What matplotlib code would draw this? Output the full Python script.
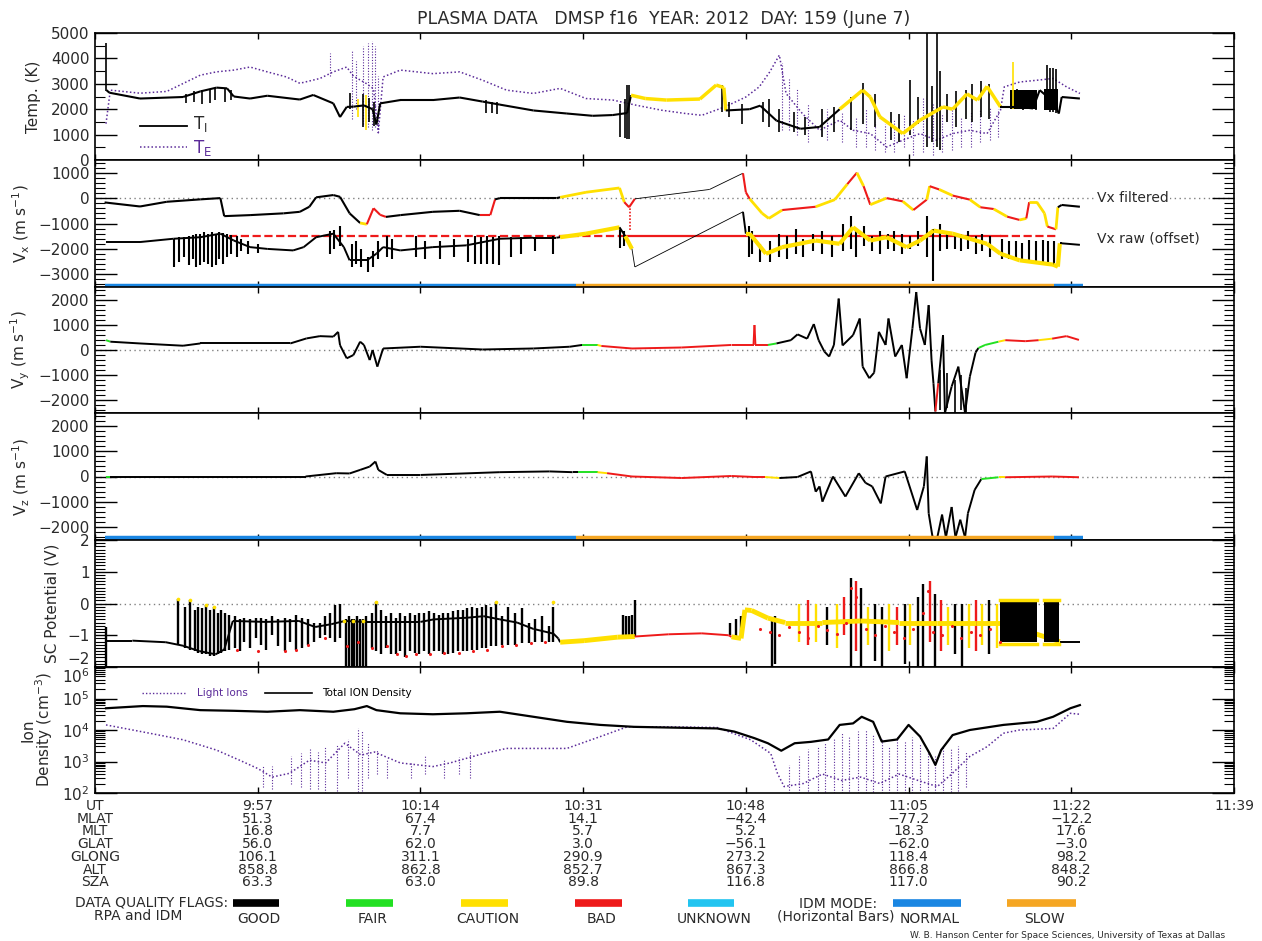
import numpy as np
import matplotlib
matplotlib.use("Agg")
import matplotlib.pyplot as plt
from matplotlib.lines import Line2D
from matplotlib.ticker import MultipleLocator, LogLocator, NullFormatter
import matplotlib.transforms as mtransforms

# ---------------- data (t = minutes after 9:40 UT) ----------------
tick_t = [0, 17, 34, 51, 68, 85, 102, 119]
ut_labels = ['9:57', '10:14', '10:31', '10:48', '11:05', '11:22', '11:39']
mlat = ['51.3', '67.4', '14.1', '\u221242.4', '\u221277.2', '\u221212.2']
mlt = ['16.8', '7.7', '5.7', '5.2', '18.3', '17.6']
glat = ['56.0', '62.0', '3.0', '\u221256.1', '\u221262.0', '\u22123.0']
glong = ['106.1', '311.1', '290.9', '273.2', '118.4', '98.2']
alt = ['858.8', '862.8', '852.7', '867.3', '866.8', '848.2']
sza = ['63.3', '63.0', '89.8', '116.8', '117.0', '90.2']

# Ion temperature
ti_t = [1.2, 1.5, 4.7, 9.2, 11.0, 12.7, 13.8, 14.5, 16.2, 18.0, 21.4, 22.8, 24.9, 25.6, 26.3,
        27.0, 28.1, 29.0, 29.4, 29.8, 31.9, 35.3, 38.1, 40.5, 42.3, 45.8, 49.3, 52.0, 54.1, 55.6,
        56.0, 57.5, 59.7, 63.2, 64.9, 65.7, 65.9, 68.4, 69.5, 71.2, 73.7, 75.7, 77.8, 80.2, 81.0,
        82.0, 84.4, 86.2, 88.6, 89.6, 91.1, 92.2, 93.2, 94.6, 96.6, 98.0, 98.7, 100.1, 100.7, 101.0,
        102.9]
ti_v = [2750, 2650, 2420, 2480, 2700, 2850, 2820, 2500, 2420, 2530, 2380, 2560, 2230, 1690, 2090,
        2100, 2150, 2000, 1400, 2230, 2360, 2360, 2460, 2300, 2180, 1950, 1830, 1740, 1770, 1850,
        2550, 2420, 2360, 2400, 2950, 2850, 1950, 2000, 2140, 1550, 1230, 1300, 2000, 2750, 2480,
        1700, 1040, 1570, 2090, 2000, 2600, 2360, 2900, 2090, 2090, 2030, 2750, 2300, 1830, 2480,
        2420]
ti_f = "G" * 30 + "C" * 6 + "G" * 6 + "C" * 11 + "G" * 8

ti_spk_t = [1.2, 9.5, 10.3, 11.2, 12.0, 12.5, 13.6, 14.2, 26.6, 27.5, 28.0, 28.3, 28.6, 29.1, 40.8,
            41.5, 42.0, 54.9, 55.4, 55.6, 55.8, 65.5, 66.2, 67.6, 69.8, 70.4, 71.5, 73.0, 74.2, 76.0,
            77.2, 79.0, 80.2, 81.5, 83.2, 84.0, 85.2, 86.0, 86.9, 87.4, 88.0, 88.3, 89.0, 90.0, 91.0,
            91.6, 92.6, 93.4, 95.9, 96.3, 97.0, 97.6, 98.3, 99.5, 99.8, 100.1, 100.4]
ti_spk_lo = [2700, 2250, 2300, 2200, 2250, 2350, 2300, 2350, 2000, 1700, 1300, 1200, 1500, 1350, 1850,
             1850, 1800, 900, 850, 830, 830, 1900, 1700, 1400, 1500, 1300, 1100, 1100, 1000, 900,
             1100, 1200, 1400, 1300, 800, 700, 1000, 1400, 500, 700, 500, 400, 1500, 1300, 1600,
             1500, 1700, 1600, 2000, 2000, 1950, 2000, 1950, 2000, 1900, 1900, 1850]
ti_spk_hi = [4600, 2600, 2700, 2750, 2800, 2850, 2850, 2750, 2620, 2400, 2600, 2550, 2450, 2300, 2350,
             2300, 2300, 2200, 2400, 2950, 2950, 2950, 2300, 2200, 2300, 2400, 2000, 1900, 1700, 2000,
             2100, 2500, 3050, 2600, 1900, 1800, 3130, 2500, 5000, 2900, 5000, 3500, 2600, 2700, 2750,
             3000, 3100, 3000, 3870, 2800, 2700, 2650, 2700, 3740, 3620, 3620, 3600]
ti_spk_f = "G" * 9 + "CGC" + "G" * 36 + "C" + "G" * 8
# dense black band of Ti near the end of the pass
ti_blk_t0 = [95.6, 99.2]
ti_blk_t1 = [98.4, 100.6]
ti_blk_lo = [2000, 1950]
ti_blk_hi = [2750, 2800]

# Electron temperature
te_t = [1.15, 1.6, 4.7, 7.5, 11.0, 12.7, 14.5, 16.2, 18.0, 20.0, 21.4, 23.5, 24.9, 26.3, 27.0,
        28.4, 29.1, 29.6, 30.1, 31.9, 35.3, 38.1, 40.5, 43.0, 45.8, 48.6, 51.3, 54.1, 56.5, 59.2,
        61.7, 63.4, 65.8, 68.0, 69.4, 70.5, 71.5, 72.2, 73.9, 75.7, 77.8, 79.2, 81.0, 82.7, 84.4,
        86.2, 87.9, 89.6, 91.4, 93.2, 94.6, 95.0, 96.6, 98.4, 100.1, 101.5, 102.9]
te_v = [1430, 2750, 2630, 2700, 3340, 3470, 3540, 3660, 3470, 3270, 3020, 3210, 3470, 3660, 3300,
        3000, 2800, 1070, 3270, 3540, 3400, 3470, 3140, 2750, 2620, 2820, 2420, 2360, 2160, 1960,
        1830, 1760, 2090, 2480, 2880, 3470, 4130, 2620, 1830, 1170, 1570, 1170, 1040, 510, 780,
        1040, 780, 1040, 1170, 1040, 1960, 2880, 3070, 3140, 3210, 2880, 2620]
te_spk_t = [24.5, 26.8, 27.3, 28.0, 28.5, 28.9, 29.3, 29.6, 71.8, 72.5, 73.3, 74.5, 76.5, 78.0, 79.5,
            80.5, 81.5, 82.5, 83.5, 84.5, 85.5, 86.5, 87.5, 88.5, 89.5, 90.5, 91.5, 92.5, 93.5, 94.3]
te_spk_lo = [3300, 1600, 2000, 1400, 1300, 1200, 1300, 1100, 1200, 1200, 1000, 700, 800, 700, 500,
             500, 400, 300, 300, 500, 200, 300, 200, 300, 400, 500, 500, 700, 800, 900]
te_spk_hi = [4200, 4300, 3900, 4500, 4600, 4700, 4500, 3300, 3800, 3200, 2800, 2200, 2000, 1900, 1700,
             2000, 1500, 1400, 1600, 1800, 1600, 2500, 2200, 1800, 2000, 1700, 1900, 2000, 2100, 2000]

# Vx filtered
vxf_t = [1.0, 4.7, 7.5, 11.0, 13.1, 13.5, 16.2, 19.7, 21.4, 22.4, 23.1, 24.9, 25.6, 26.6, 27.7,
         28.4, 29.1, 29.8, 30.4, 31.9, 35.3, 38.1, 40.2, 41.3, 41.8, 42.3, 48.2, 48.6, 51.3, 54.8,
         55.3, 55.8, 56.4, 64.2, 67.7, 68.0, 68.4, 69.7, 70.4, 71.8, 75.3, 77.3, 78.6, 79.6, 80.3,
         81.0, 82.7, 84.4, 85.5, 86.9, 87.2, 88.2, 89.6, 91.4, 92.5, 93.9, 95.3, 96.6, 97.3, 97.6,
         98.4, 99.2, 99.5, 100.4, 100.6, 101.0, 102.9]
vxf_v = [-170, -330, -145, -50, 0, -710, -670, -600, -540, -340, 30, 120, 50, -600, -980,
         -1030, -400, -660, -740, -670, -540, -500, -670, -670, -50, 0, 0, 30, 230, 400,
         -160, -360, -30, 340, 980, 230, -30, -600, -800, -470, -340, -60, 550, 1000, 470,
         -260, 0, -130, -470, -60, 470, 340, 100, -60, -360, -430, -730, -860, -800, -160,
         -160, -600, -1120, -1230, -360, -270, -340]
vxf_f = ("G" * 14 + "C" + "BBB" + "GGGG" + "BB" + "GGG" + "CCC" + "BB" + "TT" + "BB"
         + "CCCBCCBCBCBCBCBCBCBCBCBCCCBC" + "GGG")

# Vx raw (offset)
vxr_t = [1.15, 4.7, 8.2, 11.0, 13.1, 14.5, 16.2, 18.0, 20.7, 21.8, 23.1, 24.9, 26.0, 26.6, 28.4,
         29.4, 30.1, 31.9, 35.3, 38.8, 42.3, 45.8, 48.2, 48.6, 51.3, 54.8, 55.4, 56.1, 56.4, 67.7,
         68.0, 68.4, 70.1, 71.8, 75.3, 77.8, 79.2, 81.0, 82.7, 84.8, 86.2, 87.6, 89.6, 91.4, 93.2,
         94.6, 96.6, 100.1, 100.6, 100.8, 101.0, 102.9]
vxr_v = [-1730, -1730, -1600, -1540, -1400, -1670, -1930, -2000, -2060, -1930, -1540, -1400, -1930,
         -2450, -2450, -2190, -1930, -2060, -1930, -1860, -1600, -1560, -1560, -1540, -1400, -1150,
         -1500, -2000, -2710, -540, -1400, -1400, -2190, -1930, -1670, -1800, -1150, -1670, -1540,
         -1930, -1670, -1280, -1400, -1600, -1800, -2190, -2450, -2620, -2700, -1780, -1780, -1840]
vxr_f = "G" * 23 + "CC" + "G" + "C" + "TT" + "G" + "C" * 19 + "GGG"

vxr_spk_t = [8.3, 8.8, 9.3, 9.8, 10.2, 10.6, 11.0, 11.4, 11.8, 12.2, 12.6, 13.0, 13.4, 13.8, 14.2,
             14.8, 15.3, 16.0, 17.0, 24.5, 25.0, 25.6, 26.8, 27.3, 27.8, 28.5, 29.0, 29.6, 30.5, 31.0,
             33.5, 34.5, 36.0, 37.5, 39.0, 39.7, 40.3, 41.0, 41.6, 42.2, 43.5, 44.5, 46.0, 47.8, 54.9,
             55.3, 68.3, 68.6, 69.5, 70.5, 71.5, 72.3, 73.2, 74.0, 75.0, 76.0, 77.0, 78.2, 79.0, 79.5,
             80.3, 81.2, 82.0, 82.8, 83.5, 84.3, 85.2, 86.0, 86.9, 87.5, 88.3, 89.0, 89.8, 90.5, 91.2,
             92.0, 92.7, 93.5, 94.8, 95.5, 96.2, 96.9, 97.6, 98.3, 99.0, 99.6, 100.2]
vxr_spk_lo = [-2700, -2500, -2300, -2650, -2400, -2700, -2650, -2500, -2600, -2700, -2650, -2400,
              -2600, -2300, -2200, -2300, -2100, -2200, -2150, -2200, -2000, -1900, -2700, -2600,
              -2700, -2900, -2700, -2400, -2300, -2400, -2300, -2400, -2400, -2300, -2500, -2600,
              -2600, -2600, -2600, -2650, -2300, -2200, -2100, -2200, -1950, -1900, -2300, -2200,
              -2500, -2500, -2300, -2400, -2200, -2300, -2100, -2200, -2300, -2100, -2000, -2300,
              -1900, -2100, -2200, -2000, -2100, -2200, -2000, -1900, -2300, -3250, -2100, -2000,
              -2000, -2100, -2000, -2200, -2100, -2300, -2400, -2400, -2450, -2450, -2500, -2500,
              -2550, -2600, -2650]
vxr_spk_hi = [-1600, -1550, -1550, -1500, -1450, -1400, -1400, -1350, -1400, -1350, -1400, -1350,
              -1380, -1400, -1450, -1500, -1600, -1700, -1800, -1300, -1250, -1100, -1800, -1700,
              -2000, -2300, -2100, -1700, -1500, -1600, -1500, -1700, -1700, -1600, -1600, -1500,
              -1550, -1500, -1550, -1500, -1550, -1550, -1550, -1500, -1200, -1300, -1100, -1300,
              -1800, -1700, -1400, -1500, -1200, -1600, -1400, -1300, -1500, -1000, -700, -1200,
              -1100, -1500, -1300, -1400, -1300, -1400, -1500, -1300, -700, -1200, -1000, -1300,
              -1400, -1400, -1300, -1500, -1400, -1500, -1600, -1700, -1700, -1750, -1650, -1700,
              -1650, -1700, -1700]

# red "bad" offset trace in Vx panel
vx_bad_t0 = [14.0, 54.8, 94.6]
vx_bad_t1 = [54.8, 94.6, 100.6]
vx_bad_style = ['--', '-', '--']
vx_bad_level = -1500

# IDM mode bars
mode_t0 = [1.0, 50.3, 100.2]
mode_t1 = [50.3, 100.2, 103.2]
mode_kind = ['N', 'S', 'N']

# Vy
vy_t = [1.15, 1.6, 4.7, 9.2, 11.0, 20.4, 22.1, 23.5, 24.9, 25.4, 25.6, 26.3, 27.0, 27.7, 28.1,
        28.7, 29.0, 29.5, 30.1, 34.0, 40.5, 45.8, 49.6, 50.9, 52.5, 52.9, 56.1, 61.3, 66.5, 68.8,
        68.9, 69.0, 70.3, 71.2, 72.7, 73.4, 74.4, 75.1, 75.6, 76.2, 76.7, 77.2, 77.7, 78.1, 79.2,
        79.9, 80.2, 80.9, 81.4, 81.9, 82.6, 82.9, 83.6, 84.3, 84.8, 85.4, 85.8, 86.2, 86.7, 87.1,
        87.4, 87.6, 87.8, 88.1, 88.6, 88.8, 89.5, 90.2, 90.9, 91.4, 92.0, 92.3, 93.0, 94.4, 95.1,
        97.2, 98.6, 100.0, 101.5, 102.8]
vy_v = [390, 330, 260, 170, 260, 260, 460, 550, 530, 720, 190, -330, -200, 330, 200,
        -400, 0, -660, 60, 130, 20, 60, 130, 200, 200, 160, 60, 100, 200, 200,
        990, 200, 200, 260, 390, 620, 450, 1030, 390, -60, -260, 200, 2040, 180, 590,
        1250, -660, -1120, -900, 720, 200, 1250, -260, 200, -1120, 850, 2300, 850, 200, 1780,
        -400, -1320, -2440, -1320, 590, -2500, -1450, -660, -2500, -1060, -100, 80, 200, 330, 390,
        350, 390, 450, 550, 400]
vy_f = "F" + "G" * 22 + "F" + "C" + "B" * 7 + "F" + "G" * 29 + "B" + "G" * 8 + "FFCBBCBBB"
vy_spk_t = [88.3, 89.0, 89.8, 90.5, 91.0]
vy_spk_lo = [-2400, -2300, -2500, -2400, -2450]
vy_spk_hi = [-800, -900, -1200, -1000, -1500]

# Vz
vz_t = [1.15, 1.6, 22.0, 25.2, 26.6, 27.7, 28.7, 29.3, 29.6, 30.5, 34.0, 42.3, 47.5, 49.9, 50.5,
        52.5, 53.5, 56.1, 61.3, 66.5, 68.9, 70.0, 71.5, 73.4, 74.8, 75.3, 75.7, 76.0, 77.1, 78.4,
        79.8, 80.5, 81.2, 82.1, 82.6, 84.6, 85.9, 86.6, 86.9, 87.1, 87.5, 88.0, 88.5, 88.9, 89.5,
        89.9, 90.4, 90.9, 91.2, 91.9, 92.6, 94.4, 95.1, 100.0, 102.8]
vz_v = [0, 0, 0, 130, 120, 260, 390, 590, 260, 60, 60, 170, 200, 170, 170,
        170, 130, 0, -60, 20, -20, -20, -60, -20, 200, -600, -390, -990, 0, -790,
        130, -250, -390, -1060, 0, 200, -1320, -390, 790, -1450, -2370, -2400, -1500, -2400, -1200,
        -2400, -1700, -2400, -1450, -530, -100, -30, -30, 0, -30]
vz_f = "F" + "G" * 13 + "F" + "C" + "B" * 5 + "C" + "G" * 18 + "B" + "G" * 9 + "FCBBB"

# Spacecraft potential
sc_t = [1.15, 3.9, 7.4, 9.2, 10.9, 12.6, 13.5, 14.4, 17.8, 21.3, 23.0, 24.7, 26.1, 28.3, 30.2,
        34.0, 35.4, 38.8, 40.6, 42.3, 44.1, 45.8, 47.9, 48.4, 48.6, 51.1, 54.6, 56.4, 59.9, 63.4,
        66.2, 66.5, 67.5, 67.9, 68.6, 70.3, 72.1, 76.0, 80.0, 84.0, 88.0, 92.0, 94.6, 100.8, 101.0,
        102.9]
sc_v = [-1.17, -1.17, -1.22, -1.33, -1.5, -1.6, -1.45, -0.55, -0.58, -0.55, -0.74, -0.65, -0.55,
        -0.58, -0.58, -0.58, -0.5, -0.45, -0.4, -0.5, -0.6, -0.8, -0.95, -1.1, -1.22, -1.17, -1.06,
        -1.04, -0.97, -0.94, -1.0, -1.05, -1.1, -0.2, -0.22, -0.46, -0.6, -0.6, -0.55, -0.6, -0.6,
        -0.6, -0.6, -1.2, -1.2, -1.2]
sc_f = "G" * 24 + "CCC" + "BBBB" + "C" + "C" * 11 + "GGG"

sc_spk_t = [1.15, 8.7, 9.4, 9.9, 10.4, 10.8, 11.2, 11.6, 12.0, 12.4, 12.8, 13.2, 13.6, 14.0,
            14.6, 15.1, 15.6, 16.2, 16.8, 17.3, 17.9, 18.5, 19.1, 19.8, 20.4, 21.0, 21.6, 22.3, 22.9,
            23.5, 24.0, 24.6, 25.1, 25.6,
            26.2, 26.5, 26.8, 27.1, 27.4, 27.7, 28.0, 28.3,
            28.9, 29.4, 29.9, 30.4, 30.9, 31.4, 31.9, 32.4, 32.9, 33.4, 33.9, 34.4, 34.9, 35.4, 35.9,
            36.4, 36.9, 37.4, 37.9, 38.4, 38.9, 39.4, 39.9, 40.4, 40.9, 41.4, 41.9, 42.5, 43.2, 43.9,
            44.6, 45.3, 46.0, 46.7, 47.4, 47.9,
            55.2, 55.5, 55.8, 56.1, 56.4, 66.3, 67.0, 67.5,
            70.7, 71.0, 73.5, 74.5, 75.3, 76.5, 77.5, 78.3, 79.0, 79.5, 80.0, 80.8, 81.5, 82.2, 83.0,
            83.8, 84.6, 85.2, 86.0, 86.5, 87.2, 87.8, 88.4, 89.1, 89.8, 90.6, 91.3, 92.0, 92.7, 93.4,
            94.2]
sc_spk_lo = [-2.0, -1.3, -1.4, -1.45, -1.5, -1.55, -1.6, -1.6, -1.65, -1.65, -1.6, -1.55, -1.5, -1.45,
             -1.4, -1.5, -1.2, -1.4, -1.1, -1.3, -1.45, -1.0, -1.35, -1.5, -1.2, -1.45, -1.4, -1.3,
             -1.2, -1.1, -1.0, -1.1, -1.2, -1.1,
             -2.0, -2.0, -2.0, -2.0, -2.0, -2.0, -2.0, -2.0,
             -1.4, -1.5, -1.6, -1.4, -1.6, -1.6, -1.5, -1.7, -1.5, -1.55, -1.6, -1.5, -1.6, -1.5,
             -1.5, -1.6, -1.6, -1.55, -1.5, -1.5, -1.5, -1.45, -1.45, -1.4, -1.4, -1.35, -1.35, -1.3,
             -1.3, -1.3, -1.25, -1.25, -1.2, -1.2, -1.2, -1.2,
             -1.06, -1.06, -1.06, -1.06, -1.04, -1.0, -1.1, -1.1,
             -2.0, -1.9, -1.2, -1.3, -1.2, -1.3, -1.4, -1.0, -2.0, -1.5, -2.0, -1.3, -1.8, -2.0, -1.5,
             -1.3, -1.9, -1.3, -2.0, -2.0, -1.2, -2.0, -1.5, -1.3, -1.6, -2.0, -1.4, -1.5, -1.3, -1.6,
             -1.4]
sc_spk_hi = [-0.74, 0.15, -0.1, 0.1, -0.2, -0.1, -0.15, -0.05, -0.2, -0.1, -0.3, -0.2, -0.3, -0.35,
             -0.4, -0.5, -0.45, -0.5, -0.45, -0.45, -0.5, -0.4, -0.5, -0.45, -0.5, -0.35, -0.45, -0.5,
             -0.6, -0.6, -0.4, -0.3, -0.05, 0.0,
             -0.5, -0.4, -0.5, -0.5, -0.4, -0.5, -0.5, -0.4,
             -0.3, 0.05, -0.2, -0.4, -0.3, -0.45, -0.3, -0.4, -0.3, -0.35, -0.3, -0.3, -0.25, -0.3,
             -0.35, -0.3, -0.3, -0.25, -0.2, -0.2, -0.15, -0.1, -0.15, -0.1, -0.05, -0.1, 0.05, -0.4,
             -0.1, -0.3, -0.15, -0.6, -0.5, -0.4, -0.7, -0.1,
             -0.35, -0.4, -0.38, -0.35, 0.1, -0.6, -0.5, -0.4,
             -0.5, -0.4, 0.0, 0.1, 0.0, -0.1, 0.0, 0.2, 0.8, 0.7, 0.5, -0.1, 0.0, -0.1, 0.0,
             -0.1, 0.0, 0.0, 0.2, 0.6, 0.7, 0.3, 0.1, -0.1, 0.0, 0.0, 0.0, 0.1, 0.0, 0.1,
             0.0]
sc_spk_f = "G" * 86 + "GGCBCGCBGBGCGGCBGCGGBGBCGGCBCGC"

sc_red_t = [14.8, 17.0, 19.8, 21.0, 22.3, 24.0, 26.3, 27.5, 28.9, 30.5, 31.5, 32.5, 33.5, 35.0,
            36.5, 38.0, 39.5, 41.0, 42.5, 44.0, 45.5, 47.0,
            69.5, 70.5, 71.5, 72.5, 73.5, 74.5, 75.5, 76.5, 77.5, 78.5, 79.0, 79.5, 80.5, 81.5,
            82.5, 83.5, 84.5, 85.5, 86.5, 87.0, 87.5, 88.5, 89.5, 90.5, 91.5, 92.5, 93.5, 94.5]
sc_red_v = [-1.45, -1.5, -1.5, -1.45, -1.3, -1.1, -1.35, -1.2, -1.4, -1.35, -1.6, -1.65, -1.6, -1.6,
            -1.55, -1.55, -1.5, -1.45, -1.35, -1.3, -1.25, -1.2,
            -0.8, -0.9, -1.0, -0.75, -0.9, -1.1, -0.7, -0.85, -0.95, -0.6, 0.5, 0.2, -0.8, -1.0,
            -0.7, -0.9, -1.1, -0.8, -0.3, 0.4, -0.9, -1.0, -0.7, -1.1, -0.9, -1.0, -0.8, -1.2]
sc_yel_t = [8.7, 9.9, 11.6, 12.4, 26.0, 27.0, 28.0, 29.4, 41.9, 47.9]
sc_yel_v = [0.15, 0.1, -0.05, -0.1, -0.55, -0.55, -0.55, 0.05, 0.05, 0.05]
sc_blk_t0 = [94.6, 99.1]
sc_blk_t1 = [98.4, 100.7]
sc_blk_lo = -1.22
sc_blk_hi = 0.05

# Ion density
ni_t = [1.15, 5.0, 7.5, 11.0, 14.5, 18.0, 21.4, 24.9, 27.1, 28.4, 29.4, 31.9, 35.3, 38.8, 42.3,
        45.8, 49.3, 52.8, 56.3, 59.8, 65.0, 66.8, 68.9, 70.3, 71.7, 73.1, 74.8, 76.6, 77.8, 79.2,
        80.1, 81.3, 82.2, 83.8, 85.0, 86.2, 87.2, 87.8, 88.4, 89.6, 91.4, 94.9, 98.4, 100.1, 101.9,
        102.9]
ni_v = [49000, 57500, 55000, 42700, 40700, 38000, 42700, 38000, 45700, 57500, 42700, 33900, 31600,
        33900, 38000, 26300, 18200, 14500, 12600, 12000, 11200, 8900, 5500, 3800, 2200, 3800, 4200,
        5000, 14500, 16200, 26300, 18200, 4300, 5000, 14500, 6200, 1800, 780, 2300, 6900, 10000,
        14500, 18200, 26300, 49000, 61700]
li_t = [1.15, 5.7, 9.2, 12.7, 15.1, 17.0, 18.5, 20.3, 22.4, 24.1, 26.1, 27.8, 29.2, 31.9, 35.3,
        37.1, 38.8, 40.6, 43.0, 45.8, 49.3, 52.8, 55.6, 59.8, 65.0, 68.5, 70.6, 71.3, 72.0, 74.0,
        76.0, 78.0, 80.0, 82.0, 84.0, 86.0, 88.0, 89.5, 91.4, 93.2, 94.9, 96.6, 100.1, 101.9, 102.9]
li_v = [14500, 7900, 4900, 2300, 1100, 600, 320, 420, 1100, 900, 3800, 1600, 2000, 900, 690,
        900, 1260, 1800, 2600, 2600, 2600, 6200, 12600, 12600, 12000, 4900, 1800, 420, 160, 200,
        400, 250, 320, 200, 400, 250, 160, 400, 1450, 2950, 7900, 10000, 11200, 33900, 31600]
li_spk_t = [17.5, 18.5, 20.5, 21.5, 22.5, 23.3, 24.0, 25.3, 26.4, 27.5, 27.9, 28.5, 29.5, 30.5, 33.0,
            34.5, 36.5, 38.0, 39.2, 72.5, 73.5, 74.5, 75.5, 76.3, 77.2, 78.0, 78.8, 79.7, 80.5, 81.3,
            82.2, 83.0, 83.8, 84.6, 85.4, 86.2, 87.0, 87.8, 88.6, 89.4, 90.2, 91.0]
li_spk_lo = [150, 130, 200, 150, 130, 130, 100, 120, 300, 110, 120, 300, 400, 300, 300,
             400, 300, 400, 300, 100, 100, 120, 100, 110, 100, 100, 120, 100, 100, 110,
             100, 100, 100, 100, 100, 100, 100, 100, 100, 110, 120, 150]
li_spk_hi = [800, 700, 1500, 1800, 2500, 2000, 3000, 3500, 5000, 12000, 10000, 4000, 2500, 1200, 1000,
             1500, 1200, 1400, 2000, 800, 1500, 2500, 3000, 4000, 5000, 8000, 6000, 9000, 10000, 7000,
             5000, 3000, 6000, 4500, 6000, 3500, 2500, 1500, 3000, 2500, 3000, 2000]

# ---------------- styling ----------------
W, H = 1262, 941
FLAG_COLORS = {'G': 'black', 'F': '#22e022', 'C': '#ffe000', 'B': '#ee1a1a', 'T': 'black',
               'U': '#22c4f0'}
MODE_COLORS = {'N': '#1a86e2', 'S': '#f5a623'}
PURPLE = '#5b2b99'
TXT = '#2a2a2a'
DOT = (0, (1, 2.5))
NARROW = ['Liberation Sans Narrow', 'DejaVu Sans']

plt.rcParams['font.family'] = ['DejaVu Sans']


def fx(x):
    return x / W


def fy(y):
    return 1 - y / H


def flag_line(ax, t, v, f, lw=1.3, clw=None):
    assert len(t) == len(v) == len(f), (len(t), len(v), len(f))
    for i in range(len(t) - 1):
        c = FLAG_COLORS[f[i]]
        w = 0.6 if f[i] == 'T' else (clw if (clw and f[i] == 'C') else lw)
        ax.plot(t[i:i + 2], v[i:i + 2], color=c, lw=w, zorder=3, solid_capstyle='butt')


def spikes(ax, t, lo, hi, f=None, lw=0.8, color='black', **kw):
    assert len(t) == len(lo) == len(hi)
    cols = [FLAG_COLORS[c] for c in f] if f else color
    if f:
        assert len(f) == len(t)
    ax.vlines(t, lo, hi, colors=cols, lw=lw, zorder=2, **kw)


fig = plt.figure(figsize=(W / 100, H / 100), dpi=100)
fig.patch.set_facecolor('white')

left, right = 95, 1234
edges = [33, 160, 287, 413, 540, 667, 793]
axes = []
for i in range(6):
    y0, y1 = edges[i], edges[i + 1]
    ax = fig.add_axes([fx(left), fy(y1), (right - left) / W, (y1 - y0) / H])
    ax.set_xlim(0, 119)
    ax.set_xticks(tick_t)
    ax.tick_params(axis='x', direction='in', top=True, bottom=True, length=4, width=1,
                   labelbottom=False)
    ax.tick_params(axis='y', which='major', direction='in', left=True, right=True, length=16,
                   width=1, labelsize=11, labelcolor=TXT, pad=4)
    ax.tick_params(axis='y', which='minor', direction='in', left=True, right=True, length=7,
                   width=0.8)
    for s in ax.spines.values():
        s.set_linewidth(1.2)
    axes.append(ax)

ax1, ax2, ax3, ax4, ax5, ax6 = axes

# ---- panel 1: temperatures
ax1.set_ylim(0, 5000)
ax1.set_yticks([0, 1000, 2000, 3000, 4000, 5000])
ax1.yaxis.set_minor_locator(MultipleLocator(500))
ax1.plot(te_t, te_v, color=PURPLE, lw=1.1, ls=(0, (1, 1.5)), zorder=2)
spikes(ax1, te_spk_t, te_spk_lo, te_spk_hi, lw=0.8, color=PURPLE, linestyles=(0, (1, 1.5)))
for t0, t1, lo, hi in zip(ti_blk_t0, ti_blk_t1, ti_blk_lo, ti_blk_hi):
    ax1.fill_between([t0, t1], [lo, lo], [hi, hi], color='black', lw=0, zorder=2)
spikes(ax1, ti_spk_t, ti_spk_lo, ti_spk_hi, ti_spk_f, lw=1.2)
flag_line(ax1, ti_t, ti_v, ti_f, lw=1.5, clw=2.5)
ax1.set_ylabel('Temp. (K)', fontsize=11, color=TXT)
ax1.yaxis.set_label_coords(-0.047, 0.5)

# ---- panel 2: Vx
ax2.set_ylim(-3500, 1500)
ax2.set_yticks([-3000, -2000, -1000, 0, 1000])
ax2.yaxis.set_minor_locator(MultipleLocator(200))
ax2.axhline(0, color='gray', lw=1, ls=DOT, zorder=1)
for t0, t1, st in zip(vx_bad_t0, vx_bad_t1, vx_bad_style):
    ax2.plot([t0, t1], [vx_bad_level, vx_bad_level], color=FLAG_COLORS['B'], lw=1.6, ls=st, zorder=2)
spikes(ax2, vxr_spk_t, vxr_spk_lo, vxr_spk_hi, lw=1.5)
flag_line(ax2, vxr_t, vxr_v, vxr_f, lw=1.4, clw=3.0)
flag_line(ax2, vxf_t, vxf_v, vxf_f, lw=1.5, clw=2.0)
ax2.vlines([55.9], [-1260], [-360], colors=FLAG_COLORS['B'], lw=1.2, linestyles=(0, (1, 1)))
for t0, t1, k in zip(mode_t0, mode_t1, mode_kind):
    ax2.plot([t0, t1], [-3470, -3470], color=MODE_COLORS[k], lw=3.2, solid_capstyle='butt',
             clip_on=False, zorder=5)
ax2.text(104.7, 0, 'Vx filtered', fontsize=10, color=TXT, va='center', ha='left',
         bbox=dict(facecolor='white', edgecolor='none', pad=0.5))
ax2.text(104.7, -1600, 'Vx raw (offset)', fontsize=10, color=TXT, va='center', ha='left')
ax2.set_ylabel(r'V$_{\rm x}$ (m s$^{-1}$)', fontsize=11, color=TXT)
ax2.yaxis.set_label_coords(-0.055, 0.5)

# ---- panel 3: Vy
ax3.set_ylim(-2500, 2500)
ax3.set_yticks([-2000, -1000, 0, 1000, 2000])
ax3.yaxis.set_minor_locator(MultipleLocator(200))
ax3.axhline(0, color='gray', lw=1, ls=DOT, zorder=1)
spikes(ax3, vy_spk_t, vy_spk_lo, vy_spk_hi, lw=1.2)
flag_line(ax3, vy_t, vy_v, vy_f, lw=1.4)
ax3.set_ylabel(r'V$_{\rm y}$ (m s$^{-1}$)', fontsize=11, color=TXT)
ax3.yaxis.set_label_coords(-0.055, 0.5)

# ---- panel 4: Vz
ax4.set_ylim(-2500, 2500)
ax4.set_yticks([-2000, -1000, 0, 1000, 2000])
ax4.yaxis.set_minor_locator(MultipleLocator(200))
ax4.axhline(0, color='gray', lw=1, ls=DOT, zorder=1)
flag_line(ax4, vz_t, vz_v, vz_f, lw=1.4)
for t0, t1, k in zip(mode_t0, mode_t1, mode_kind):
    ax4.plot([t0, t1], [-2430, -2430], color=MODE_COLORS[k], lw=3.2, solid_capstyle='butt',
             clip_on=False, zorder=5)
ax4.set_ylabel(r'V$_{\rm z}$ (m s$^{-1}$)', fontsize=11, color=TXT)
ax4.yaxis.set_label_coords(-0.055, 0.5)

# ---- panel 5: SC potential
ax5.set_ylim(-2, 2)
ax5.set_yticks([-2, -1, 0, 1, 2])
ax5.yaxis.set_minor_locator(MultipleLocator(0.1))
ax5.axhline(0, color='gray', lw=1, ls=DOT, zorder=1)
flag_line(ax5, sc_t, sc_v, sc_f, lw=1.4, clw=3.5)
spikes(ax5, sc_spk_t, sc_spk_lo, sc_spk_hi, sc_spk_f, lw=1.7)
for t0, t1 in zip(sc_blk_t0, sc_blk_t1):
    ax5.fill_between([t0, t1], [sc_blk_lo] * 2, [sc_blk_hi] * 2, color='black', lw=0, zorder=3)
    ax5.plot([t0, t1], [sc_blk_hi + 0.05] * 2, color=FLAG_COLORS['C'], lw=2.5, zorder=3)
    ax5.plot([t0, t1], [sc_blk_lo - 0.04] * 2, color=FLAG_COLORS['C'], lw=2.5, zorder=3)
ax5.scatter(sc_red_t, sc_red_v, s=5, color=FLAG_COLORS['B'], zorder=4, lw=0)
ax5.scatter(sc_yel_t, sc_yel_v, s=7, color=FLAG_COLORS['C'], zorder=4, lw=0)
ax5.set_ylabel('SC Potential (V)', fontsize=11, color=TXT)
ax5.yaxis.set_label_coords(-0.031, 0.5)
ax5.yaxis.get_major_ticks()[0].label1.set_verticalalignment('bottom')

# ---- panel 6: ion density
ax6.set_yscale('log')
ax6.set_ylim(1e2, 1e6)
ax6.set_yticks([1e2, 1e3, 1e4, 1e5, 1e6])
ax6.yaxis.set_minor_locator(LogLocator(base=10, subs=np.arange(2, 10), numticks=10))
ax6.yaxis.set_minor_formatter(NullFormatter())
ax6.tick_params(axis='y', which='minor', length=7)
ax6.plot(li_t, li_v, color=PURPLE, lw=1.1, ls=(0, (1, 1.5)), zorder=2)
ax6.vlines(li_spk_t, li_spk_lo, li_spk_hi, colors=PURPLE, lw=0.8, linestyles=(0, (1, 1.5)))
ax6.plot(ni_t, ni_v, color='black', lw=1.6, zorder=3)
ax6.set_ylabel('Ion\nDensity (cm$^{-3}$)', fontsize=11, color=TXT, linespacing=0.9)
ax6.yaxis.set_label_coords(-0.035, 0.5)
ax6.yaxis.get_major_ticks()[-1].label1.set_verticalalignment('top')

# ---------------- legends / annotations ----------------
def fig_line(x0, x1, y, **kw):
    fig.add_artist(Line2D([fx(x0), fx(x1)], [fy(y), fy(y)], transform=fig.transFigure, **kw))


fig_line(140, 187, 126, color='black', lw=1.3)
fig.text(fx(193), fy(124), r'T$_{\rm I}$', fontsize=12, color=TXT, va='center')
fig_line(140, 187, 147, color=PURPLE, lw=1.1, ls=(0, (1, 1.5)))
fig.text(fx(193), fy(148), r'T$_{\rm E}$', fontsize=12, color=PURPLE, va='center')

fig_line(142, 185, 693, color=PURPLE, lw=1.0, ls=(0, (1, 1.5)))
fig.text(fx(197), fy(693), 'Light Ions', fontsize=7.5, color=PURPLE, va='center')
fig_line(265, 312, 693, color='black', lw=1.2)
fig.text(fx(322), fy(693), 'Total ION Density', fontsize=7.5, color='black', va='center')

fig.text(fx(664), fy(19), 'PLASMA DATA   DMSP f16  YEAR: 2012  DAY: 159 (June 7)',
         fontsize=12.5, color=TXT, ha='center', va='center')

# bottom table
trans = mtransforms.blended_transform_factory(ax6.transData, fig.transFigure)
row_names = ['UT', 'MLAT', 'MLT', 'GLAT', 'GLONG', 'ALT', 'SZA']
rows = [ut_labels, mlat, mlt, glat, glong, alt, sza]
tab_font = dict(fontsize=10, color=TXT, ha='center', va='center', transform=trans, family=NARROW)
for r, (name, vals) in enumerate(zip(row_names, rows)):
    yy = fy(806 + 12.7 * r)
    ax6.text(0, yy, name, **tab_font)
    for k, val in enumerate(vals):
        ax6.text(tick_t[k + 1], yy, val, **tab_font)

# flag legend
fig.text(fx(228), fy(903), 'DATA QUALITY FLAGS:', fontsize=10, color=TXT, ha='right', va='center',
         family=NARROW)
fig.text(fx(138), fy(916), 'RPA and IDM', fontsize=10, color=TXT, ha='center', va='center',
         family=NARROW)
legend_items = [('GOOD', FLAG_COLORS['G'], 233, 279), ('FAIR', FLAG_COLORS['F'], 346, 393),
                ('CAUTION', FLAG_COLORS['C'], 461, 508), ('BAD', FLAG_COLORS['B'], 575, 622),
                ('UNKNOWN', FLAG_COLORS['U'], 688, 734), ('NORMAL', MODE_COLORS['N'], 893, 961),
                ('SLOW', MODE_COLORS['S'], 1007, 1076)]
for name, col, x0, x1 in legend_items:
    fig_line(x0, x1, 903, color=col, lw=5.5, solid_capstyle='butt')
    fig.text(fx((x0 + x1) / 2 + 3), fy(919), name, fontsize=10, color=TXT, ha='center',
             va='center', family=NARROW)
fig.text(fx(838), fy(904), 'IDM MODE:', fontsize=10, color=TXT, ha='center', va='center',
         family=NARROW)
fig.text(fx(836), fy(917), '(Horizontal Bars)', fontsize=10, color=TXT, ha='center', va='center',
         family=NARROW)
fig.text(fx(1225), fy(935), 'W. B. Hanson Center for Space Sciences, University of Texas at Dallas',
         fontsize=6.5, color=TXT, ha='right', va='center')

fig.savefig('out.png', dpi=100, facecolor='white')
